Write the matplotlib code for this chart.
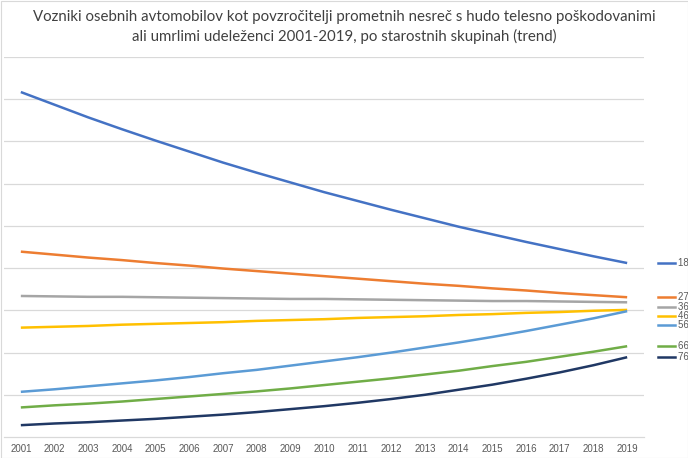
import matplotlib
matplotlib.use("Agg")
import matplotlib.pyplot as plt
from matplotlib.patches import Rectangle

years = list(range(2001, 2020))
labels = ["18-26 let", "27-35 let", "36-45 let", "46-55 let", "56-65 let", "66-75 let", "76+ let"]
s18 = [8.17, 7.87, 7.57, 7.29, 7.02, 6.76, 6.50, 6.26, 6.03, 5.80, 5.59, 5.38, 5.18, 4.98, 4.80, 4.62, 4.45, 4.28, 4.12]
s27 = [4.39, 4.32, 4.25, 4.19, 4.12, 4.06, 3.99, 3.93, 3.87, 3.81, 3.75, 3.69, 3.63, 3.58, 3.52, 3.47, 3.41, 3.36, 3.31]
s36 = [3.34, 3.33, 3.32, 3.32, 3.31, 3.30, 3.29, 3.28, 3.27, 3.27, 3.26, 3.25, 3.24, 3.23, 3.22, 3.22, 3.21, 3.20, 3.19]
s46 = [2.59, 2.61, 2.63, 2.66, 2.68, 2.70, 2.72, 2.75, 2.77, 2.79, 2.82, 2.84, 2.86, 2.89, 2.91, 2.94, 2.96, 2.99, 3.01]
s56 = [1.07, 1.13, 1.20, 1.27, 1.34, 1.42, 1.51, 1.59, 1.69, 1.79, 1.89, 2.00, 2.12, 2.24, 2.37, 2.51, 2.66, 2.81, 2.98]
s66 = [0.70, 0.75, 0.79, 0.84, 0.90, 0.96, 1.02, 1.08, 1.15, 1.23, 1.31, 1.39, 1.48, 1.57, 1.68, 1.78, 1.90, 2.02, 2.15]
s76 = [0.28, 0.32, 0.35, 0.39, 0.43, 0.48, 0.53, 0.59, 0.66, 0.73, 0.81, 0.90, 1.00, 1.12, 1.24, 1.38, 1.53, 1.70, 1.89]
series = [s18, s27, s36, s46, s56, s66, s76]
colors = ["#4472C4", "#ED7D31", "#A5A5A5", "#FFC000", "#5B9BD5", "#70AD47", "#203864"]

title = ("Vozniki osebnih avtomobilov kot povzročitelji prometnih nesreč s hudo telesno poškodovanimi\n"
         "ali umrlimi udeleženci 2001-2019, po starostnih skupinah (trend)")

W, H = 688, 458
fig = plt.figure(figsize=(W / 100, H / 100), dpi=100)
fig.patch.set_facecolor("white")
ax = fig.add_axes([4 / W, 1 - 437 / H, 640 / W, 380 / H])
ax.set_xlim(2000.5, 2019.5)
ax.set_ylim(0, 9)

for s, c in zip(series, colors):
    ax.plot(years, s, color=c, lw=1.8, solid_capstyle="butt", zorder=3)

ax.set_yticks(range(1, 10))
ax.set_yticklabels([])
ax.tick_params(axis="y", length=0)
ax.grid(axis="y", color="#D9D9D9", lw=0.9)
ax.set_axisbelow(True)
ax.set_xticks(years)
ax.set_xticklabels([str(y) for y in years], fontsize=7, color="#595959",
                   family=["Liberation Sans", "DejaVu Sans"])
ax.tick_params(axis="x", length=0, pad=5)
for sp in ["top", "right", "left"]:
    ax.spines[sp].set_visible(False)
ax.spines["bottom"].set_color("#D9D9D9")
ax.spines["bottom"].set_linewidth(0.9)

# legend keys placed next to the line ends, pushed apart to avoid overlap
trans = ax.transData
prev = None
for s, c, lab in zip(series, colors, labels):
    ypx = trans.transform((0, s[-1]))[1]
    ytop = H - ypx
    if prev is not None:
        ytop = max(ytop, prev + 9.3)
    prev = ytop
    yf = 1 - ytop / H
    fig.add_artist(plt.Line2D([658 / W, 675 / W], [yf, yf], color=c, lw=1.8,
                              transform=fig.transFigure))
    fig.text(678 / W, yf, lab, fontsize=7, color="#595959", va="center", ha="left",
             family=["Liberation Sans", "DejaVu Sans"])

fig.text(0.5, 1 - 27 / H, title, ha="center", va="center", fontsize=10.8,
         color="#404040", linespacing=1.45, family=["Lato", "DejaVu Sans"])

fig.add_artist(Rectangle((0.5 / W, 0.5 / H), 1 - 1 / W, 1 - 1 / H, transform=fig.transFigure,
                         fill=False, edgecolor="#D9D9D9", lw=0.8))

fig.savefig("out.png", dpi=100)
